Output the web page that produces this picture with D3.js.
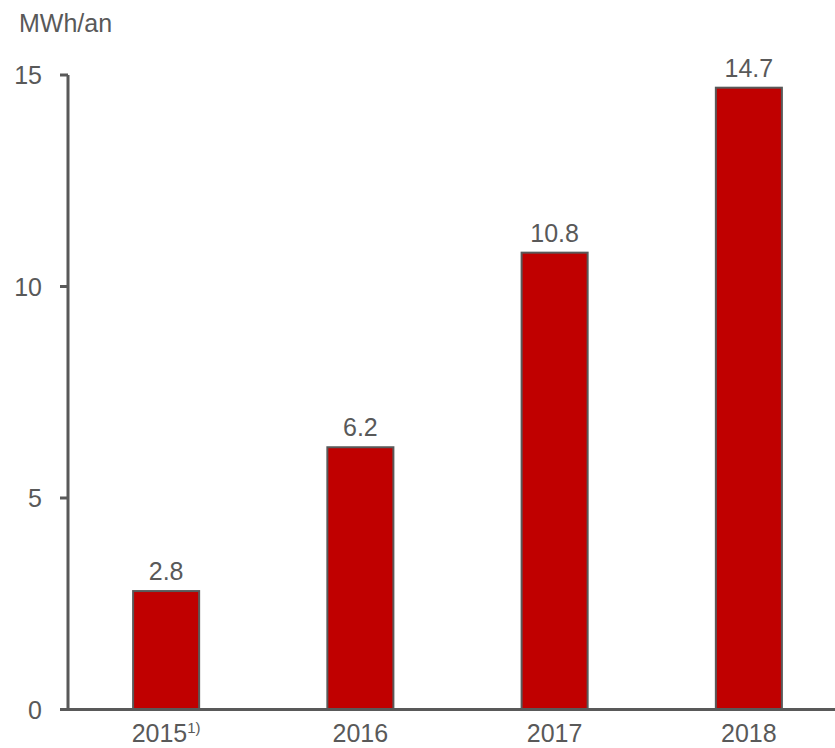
<!DOCTYPE html>
<html>
<head>
<meta charset="utf-8">
<script src="https://cdn.jsdelivr.net/npm/d3@7"></script>
<style>
  body { margin: 0; background: #fff; }
  svg { display: block; font-family: "Liberation Sans", Arial, sans-serif; }
</style>
</head>
<body>
<svg id="chart" width="835" height="748"></svg>
<script>
// Annual energy per year (MWh/an)
const categories = ["2015", "2016", "2017", "2018"];
const values = [2.8, 6.2, 10.8, 14.7];
const valueLabels = ["2.8", "6.2", "10.8", "14.7"];
const yTicks = [0, 5, 10, 15];
const footnotes = ["1)", "", "", ""];

const svg = d3.select("#chart");
const textColor = "#595959";
const axisColor = "#595959";
const barFill = "#c00000";
const fontSize = 25;

const x0 = 68, y0 = 709.5, yTop = 75;
const x = d3.scaleBand().domain(categories).range([69, 846]).paddingInner(0.66).paddingOuter(0.33);
const y = d3.scaleLinear().domain([0, 15]).range([y0, yTop]);

// unit label
svg.append("text").attr("x", 19).attr("y", 32)
  .attr("font-size", fontSize).attr("fill", textColor).text("MWh/an");

// bars
svg.selectAll("rect.bar").data(values).enter().append("rect")
  .attr("class", "bar")
  .attr("x", (d, i) => x(categories[i]))
  .attr("y", d => y(d))
  .attr("width", x.bandwidth())
  .attr("height", d => y0 - y(d))
  .attr("fill", barFill)
  .attr("stroke", axisColor)
  .attr("stroke-width", 2);

// value labels
svg.selectAll("text.val").data(values).enter().append("text")
  .attr("class", "val")
  .attr("x", (d, i) => x(categories[i]) + x.bandwidth() / 2)
  .attr("y", d => y(d) - 11)
  .attr("text-anchor", "middle")
  .attr("font-size", fontSize).attr("fill", textColor)
  .text((d, i) => valueLabels[i]);

// y axis line and ticks
svg.append("line").attr("x1", x0).attr("x2", x0).attr("y1", y(15)).attr("y2", y0)
  .attr("stroke", axisColor).attr("stroke-width", 3);
svg.selectAll("line.ytick").data(yTicks).enter().append("line")
  .attr("class", "ytick")
  .attr("x1", 60).attr("x2", x0)
  .attr("y1", d => y(d)).attr("y2", d => y(d))
  .attr("stroke", axisColor).attr("stroke-width", 3);
svg.selectAll("text.ylab").data(yTicks).enter().append("text")
  .attr("class", "ylab")
  .attr("x", 42).attr("y", d => y(d) + 9)
  .attr("text-anchor", "end")
  .attr("font-size", fontSize).attr("fill", textColor)
  .text(d => d);

// x axis line
svg.append("line").attr("x1", 60).attr("x2", 835).attr("y1", y0).attr("y2", y0)
  .attr("stroke", axisColor).attr("stroke-width", 3);

// category labels
const cat = svg.selectAll("text.xlab").data(categories).enter().append("text")
  .attr("class", "xlab")
  .attr("x", d => x(d) + x.bandwidth() / 2)
  .attr("y", 742)
  .attr("text-anchor", "middle")
  .attr("font-size", fontSize).attr("fill", textColor);
cat.append("tspan").text(d => d);
cat.append("tspan")
  .attr("dy", -9).attr("font-size", 15)
  .text((d, i) => footnotes[i]);
</script>
</body>
</html>
